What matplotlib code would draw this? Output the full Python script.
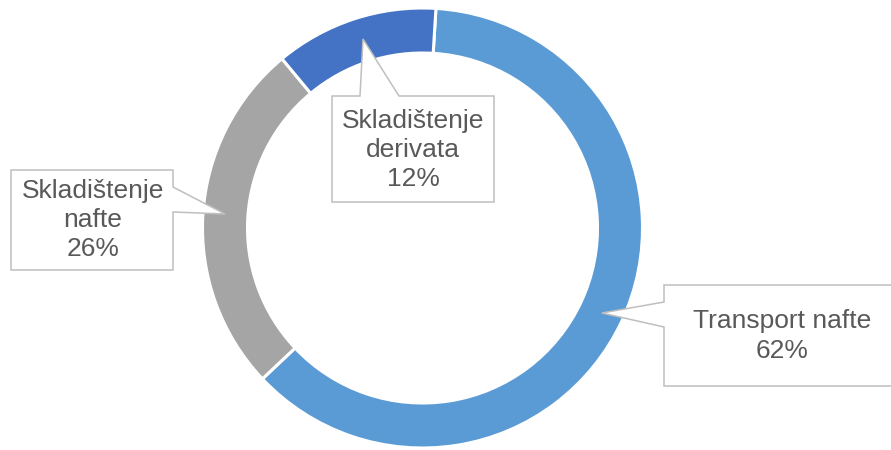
import matplotlib
matplotlib.use("Agg")
import matplotlib.pyplot as plt
from matplotlib.patches import Polygon

# data (percent share)
categories = ["Transport nafte", "Skladištenje nafte", "Skladištenje derivata"]
shares = [62, 26, 12]
label_lines = ["Transport nafte", "Skladištenje\nnafte", "Skladištenje\nderivata"]
colors = ["#5B9BD5", "#A5A5A5", "#4472C4"]

W, H = 891, 450
TXT = "#595959"
EDGE = "#BFBFBF"

# callout layout in pixel coords (origin top-left): outline vertices and text centre
callouts = [
    ([(664, 285), (895, 285), (895, 386), (664, 386), (664, 327), (602, 313), (664, 302)], (782, 336)),
    ([(11, 170), (173, 170), (173, 187), (225, 214), (173, 212), (173, 270), (11, 270)], (93, 220)),
    ([(332, 96), (360, 96), (363, 39), (399, 96), (494, 96), (494, 202), (332, 202)], (413, 150)),
]


def flip(pts):
    return [(x, H - y) for x, y in pts]


fig = plt.figure(figsize=(W / 100, H / 100), dpi=100)
ax = fig.add_axes([0, 0, 1, 1])

ax.pie(shares, colors=colors, startangle=86.5, counterclock=False,
       center=(422.5, H - 228), radius=220,
       wedgeprops=dict(width=45, edgecolor="white", linewidth=2.2))

for (pts, (tx, ty)), lab, val in zip(callouts, label_lines, shares):
    ax.add_patch(Polygon(flip(pts), closed=True, facecolor="white",
                         edgecolor=EDGE, linewidth=1.1, zorder=3))
    ax.text(tx, H - ty, f"{lab}\n{val}%", ha="center", va="center",
            fontsize=19, color=TXT, family="Liberation Sans",
            linespacing=1.27, zorder=4)

ax.set_xlim(0, W)
ax.set_ylim(0, H)
ax.set_aspect("auto")
ax.axis("off")

fig.savefig("out.png", dpi=100)
plt.close(fig)
